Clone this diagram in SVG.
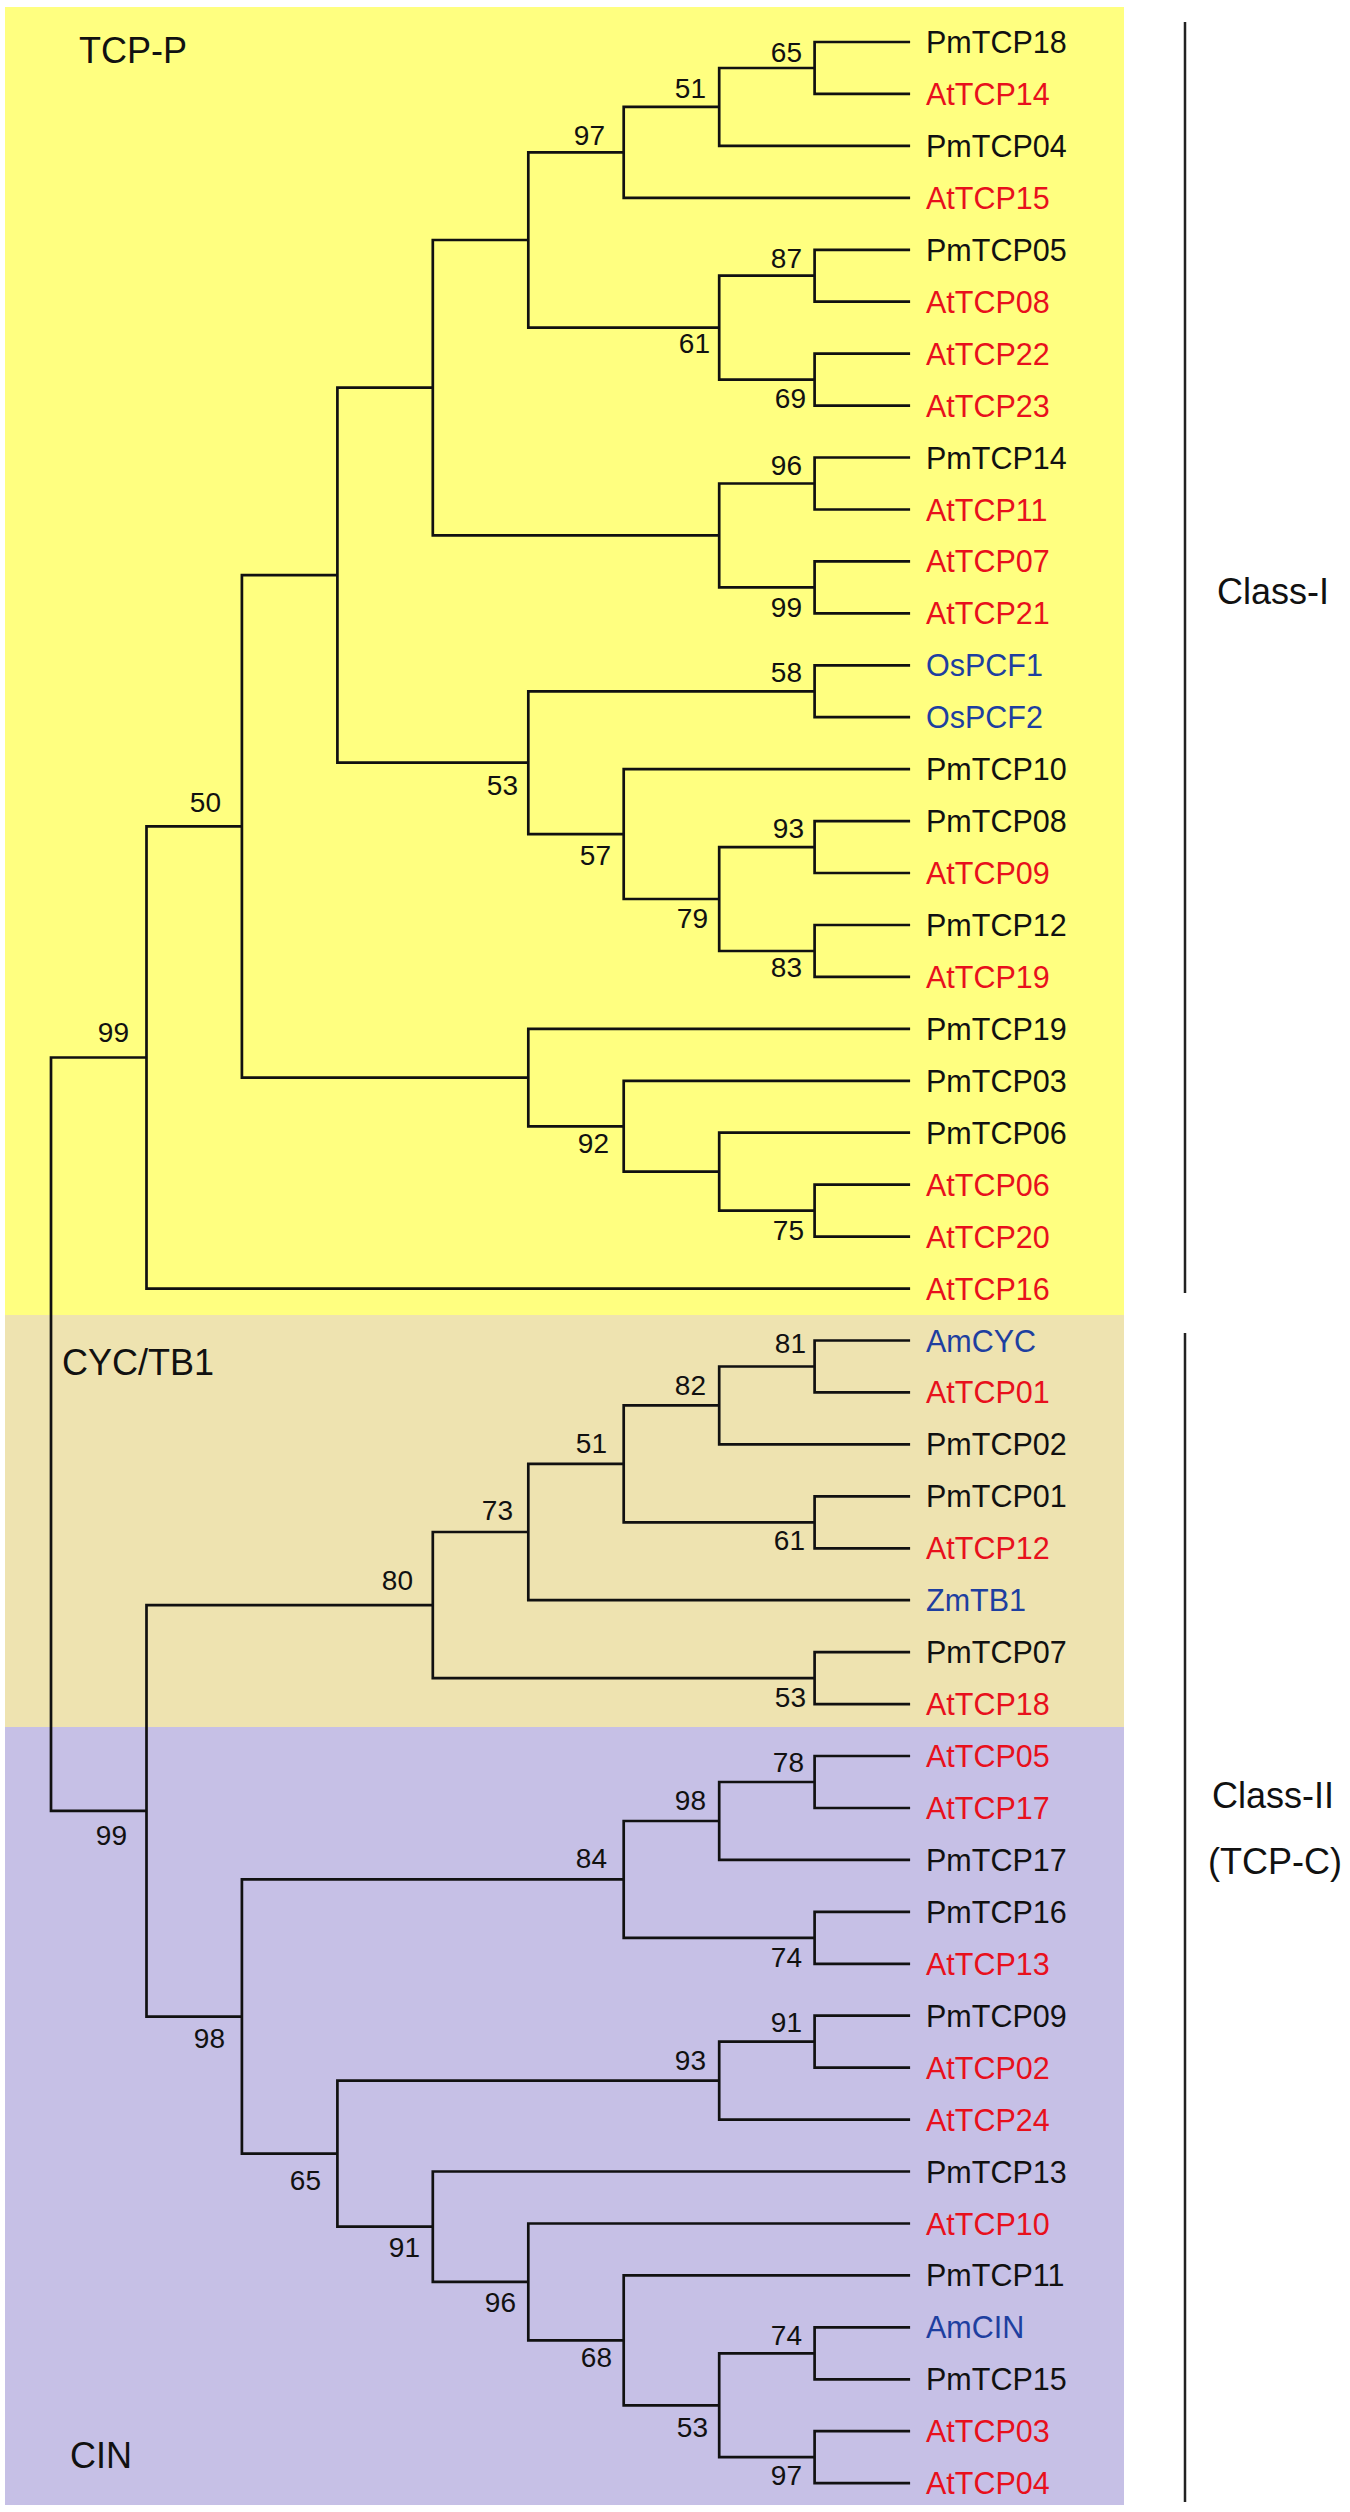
<svg xmlns="http://www.w3.org/2000/svg" width="1350" height="2512" viewBox="0 0 1350 2512">
<style>
.br{fill:none;stroke:#111;stroke-width:2.7;stroke-linejoin:miter}
.lf{font-family:"Liberation Sans",Arial,sans-serif;font-size:30.5px}
.bs{font-family:"Liberation Sans",Arial,sans-serif;font-size:28px;fill:#111;text-anchor:end}
.grp{font-family:"Liberation Sans",Arial,sans-serif;font-size:36px;fill:#111}
.cls{font-family:"Liberation Sans",Arial,sans-serif;font-size:36px;fill:#111;text-anchor:middle}
.pm{fill:#111}.at{fill:#E8101C}.ot{fill:#1E3FA0}
.bk{stroke:#222;stroke-width:2.5}
</style>
<rect width="1350" height="2512" fill="#ffffff"/>
<g id="panels">
<rect x="5" y="7" width="1119" height="1308" fill="#FFFF80"/>
<rect x="5" y="1315" width="1119" height="412" fill="#EEE3B0"/>
<rect x="5" y="1727" width="1119" height="778" fill="#C6C0E6"/>
</g>
<g id="group-labels">
<text class="grp" x="79" y="63">TCP-P</text>
<text class="grp" x="62" y="1375">CYC/TB1</text>
<text class="grp" x="70" y="2468">CIN</text>
</g>
<g id="connectors">
<path class="br" d="M 910.1 42 H 814.6 V 93.9 H 910.1"/>
<path class="br" d="M 814.6 68 H 719.2 V 145.9 H 910.1"/>
<path class="br" d="M 719.2 106.9 H 623.7 V 197.8 H 910.1"/>
<path class="br" d="M 910.1 249.8 H 814.6 V 301.7 H 910.1"/>
<path class="br" d="M 910.1 353.6 H 814.6 V 405.6 H 910.1"/>
<path class="br" d="M 814.6 275.7 H 719.2 V 379.6 H 814.6"/>
<path class="br" d="M 623.7 152.4 H 528.3 V 327.7 H 719.2"/>
<path class="br" d="M 910.1 457.5 H 814.6 V 509.5 H 910.1"/>
<path class="br" d="M 910.1 561.4 H 814.6 V 613.3 H 910.1"/>
<path class="br" d="M 814.6 483.5 H 719.2 V 587.4 H 814.6"/>
<path class="br" d="M 528.3 240 H 432.8 V 535.4 H 719.2"/>
<path class="br" d="M 910.1 665.3 H 814.6 V 717.2 H 910.1"/>
<path class="br" d="M 910.1 821.1 H 814.6 V 873 H 910.1"/>
<path class="br" d="M 910.1 925 H 814.6 V 976.9 H 910.1"/>
<path class="br" d="M 814.6 847.1 H 719.2 V 951 H 814.6"/>
<path class="br" d="M 910.1 769.2 H 623.7 V 899 H 719.2"/>
<path class="br" d="M 814.6 691.3 H 528.3 V 834.1 H 623.7"/>
<path class="br" d="M 432.8 387.7 H 337.4 V 762.7 H 528.3"/>
<path class="br" d="M 910.1 1184.7 H 814.6 V 1236.6 H 910.1"/>
<path class="br" d="M 910.1 1132.7 H 719.2 V 1210.7 H 814.6"/>
<path class="br" d="M 910.1 1080.8 H 623.7 V 1171.7 H 719.2"/>
<path class="br" d="M 910.1 1028.9 H 528.3 V 1126.3 H 623.7"/>
<path class="br" d="M 337.4 575.2 H 241.9 V 1077.6 H 528.3"/>
<path class="br" d="M 241.9 826.4 H 146.5 V 1288.6 H 910.1"/>
<path class="br" d="M 910.1 1340.5 H 814.6 V 1392.4 H 910.1"/>
<path class="br" d="M 814.6 1366.5 H 719.2 V 1444.4 H 910.1"/>
<path class="br" d="M 910.1 1496.3 H 814.6 V 1548.3 H 910.1"/>
<path class="br" d="M 719.2 1405.4 H 623.7 V 1522.3 H 814.6"/>
<path class="br" d="M 623.7 1463.9 H 528.3 V 1600.2 H 910.1"/>
<path class="br" d="M 910.1 1652.1 H 814.6 V 1704.1 H 910.1"/>
<path class="br" d="M 528.3 1532 H 432.8 V 1678.1 H 814.6"/>
<path class="br" d="M 910.1 1756 H 814.6 V 1808 H 910.1"/>
<path class="br" d="M 814.6 1782 H 719.2 V 1859.9 H 910.1"/>
<path class="br" d="M 910.1 1911.8 H 814.6 V 1963.8 H 910.1"/>
<path class="br" d="M 719.2 1821 H 623.7 V 1937.8 H 814.6"/>
<path class="br" d="M 910.1 2015.7 H 814.6 V 2067.7 H 910.1"/>
<path class="br" d="M 814.6 2041.7 H 719.2 V 2119.6 H 910.1"/>
<path class="br" d="M 910.1 2327.4 H 814.6 V 2379.3 H 910.1"/>
<path class="br" d="M 910.1 2431.2 H 814.6 V 2483.2 H 910.1"/>
<path class="br" d="M 814.6 2353.3 H 719.2 V 2457.2 H 814.6"/>
<path class="br" d="M 910.1 2275.4 H 623.7 V 2405.3 H 719.2"/>
<path class="br" d="M 910.1 2223.5 H 528.3 V 2340.3 H 623.7"/>
<path class="br" d="M 910.1 2171.5 H 432.8 V 2281.9 H 528.3"/>
<path class="br" d="M 719.2 2080.7 H 337.4 V 2226.7 H 432.8"/>
<path class="br" d="M 623.7 1879.4 H 241.9 V 2153.7 H 337.4"/>
<path class="br" d="M 432.8 1605.1 H 146.5 V 2016.6 H 241.9"/>
<path class="br" d="M 146.5 1057.5 H 51 V 1810.8 H 146.5"/>
</g>
<g id="bootstrap">
<g id="n65"><text class="bs" x="802" y="62">65</text></g>
<g id="n51"><text class="bs" x="706" y="98">51</text></g>
<g id="n97"><text class="bs" x="605" y="145">97</text></g>
<g id="n87"><text class="bs" x="802" y="268">87</text></g>
<g id="n61"><text class="bs" x="710" y="353">61</text></g>
<g id="n69"><text class="bs" x="806" y="408">69</text></g>
<g id="n96"><text class="bs" x="802" y="475">96</text></g>
<g id="n99a"><text class="bs" x="802" y="617">99</text></g>
<g id="n58"><text class="bs" x="802" y="682">58</text></g>
<g id="n53"><text class="bs" x="518" y="795">53</text></g>
<g id="n50"><text class="bs" x="221" y="812">50</text></g>
<g id="n93"><text class="bs" x="804" y="838">93</text></g>
<g id="n57"><text class="bs" x="611" y="865">57</text></g>
<g id="n79"><text class="bs" x="708" y="928">79</text></g>
<g id="n83"><text class="bs" x="802" y="977">83</text></g>
<g id="n99I"><text class="bs" x="129" y="1042">99</text></g>
<g id="n92"><text class="bs" x="609" y="1153">92</text></g>
<g id="n75"><text class="bs" x="804" y="1240">75</text></g>
<g id="n81"><text class="bs" x="806" y="1353">81</text></g>
<g id="n82"><text class="bs" x="706" y="1395">82</text></g>
<g id="n51b"><text class="bs" x="607" y="1453">51</text></g>
<g id="n73"><text class="bs" x="513" y="1520">73</text></g>
<g id="n61b"><text class="bs" x="805" y="1550">61</text></g>
<g id="n80"><text class="bs" x="413" y="1590">80</text></g>
<g id="n53b"><text class="bs" x="806" y="1707">53</text></g>
<g id="n78"><text class="bs" x="804" y="1772">78</text></g>
<g id="n98b"><text class="bs" x="706" y="1810">98</text></g>
<g id="n99II"><text class="bs" x="127" y="1845">99</text></g>
<g id="n84"><text class="bs" x="607" y="1868">84</text></g>
<g id="n74"><text class="bs" x="802" y="1967">74</text></g>
<g id="n91b"><text class="bs" x="802" y="2032">91</text></g>
<g id="n98"><text class="bs" x="225" y="2048">98</text></g>
<g id="n93b"><text class="bs" x="706" y="2070">93</text></g>
<g id="n65b"><text class="bs" x="321" y="2190">65</text></g>
<g id="n91"><text class="bs" x="420" y="2257">91</text></g>
<g id="n96b"><text class="bs" x="516" y="2312">96</text></g>
<g id="n74b"><text class="bs" x="802" y="2345">74</text></g>
<g id="n68"><text class="bs" x="612" y="2367">68</text></g>
<g id="n53c"><text class="bs" x="708" y="2437">53</text></g>
<g id="n97b"><text class="bs" x="802" y="2485">97</text></g>
</g>
<g id="leaves">
<g id="PmTCP18"><text class="lf pm" x="926" y="53">PmTCP18</text></g>
<g id="AtTCP14"><text class="lf at" x="926" y="104.9">AtTCP14</text></g>
<g id="PmTCP04"><text class="lf pm" x="926" y="156.9">PmTCP04</text></g>
<g id="AtTCP15"><text class="lf at" x="926" y="208.8">AtTCP15</text></g>
<g id="PmTCP05"><text class="lf pm" x="926" y="260.8">PmTCP05</text></g>
<g id="AtTCP08"><text class="lf at" x="926" y="312.7">AtTCP08</text></g>
<g id="AtTCP22"><text class="lf at" x="926" y="364.6">AtTCP22</text></g>
<g id="AtTCP23"><text class="lf at" x="926" y="416.6">AtTCP23</text></g>
<g id="PmTCP14"><text class="lf pm" x="926" y="468.5">PmTCP14</text></g>
<g id="AtTCP11"><text class="lf at" x="926" y="520.5">AtTCP11</text></g>
<g id="AtTCP07"><text class="lf at" x="926" y="572.4">AtTCP07</text></g>
<g id="AtTCP21"><text class="lf at" x="926" y="624.3">AtTCP21</text></g>
<g id="OsPCF1"><text class="lf ot" x="926" y="676.3">OsPCF1</text></g>
<g id="OsPCF2"><text class="lf ot" x="926" y="728.2">OsPCF2</text></g>
<g id="PmTCP10"><text class="lf pm" x="926" y="780.2">PmTCP10</text></g>
<g id="PmTCP08"><text class="lf pm" x="926" y="832.1">PmTCP08</text></g>
<g id="AtTCP09"><text class="lf at" x="926" y="884">AtTCP09</text></g>
<g id="PmTCP12"><text class="lf pm" x="926" y="936">PmTCP12</text></g>
<g id="AtTCP19"><text class="lf at" x="926" y="987.9">AtTCP19</text></g>
<g id="PmTCP19"><text class="lf pm" x="926" y="1039.9">PmTCP19</text></g>
<g id="PmTCP03"><text class="lf pm" x="926" y="1091.8">PmTCP03</text></g>
<g id="PmTCP06"><text class="lf pm" x="926" y="1143.7">PmTCP06</text></g>
<g id="AtTCP06"><text class="lf at" x="926" y="1195.7">AtTCP06</text></g>
<g id="AtTCP20"><text class="lf at" x="926" y="1247.6">AtTCP20</text></g>
<g id="AtTCP16"><text class="lf at" x="926" y="1299.6">AtTCP16</text></g>
<g id="AmCYC"><text class="lf ot" x="926" y="1351.5">AmCYC</text></g>
<g id="AtTCP01"><text class="lf at" x="926" y="1403.4">AtTCP01</text></g>
<g id="PmTCP02"><text class="lf pm" x="926" y="1455.4">PmTCP02</text></g>
<g id="PmTCP01"><text class="lf pm" x="926" y="1507.3">PmTCP01</text></g>
<g id="AtTCP12"><text class="lf at" x="926" y="1559.3">AtTCP12</text></g>
<g id="ZmTB1"><text class="lf ot" x="926" y="1611.2">ZmTB1</text></g>
<g id="PmTCP07"><text class="lf pm" x="926" y="1663.1">PmTCP07</text></g>
<g id="AtTCP18"><text class="lf at" x="926" y="1715.1">AtTCP18</text></g>
<g id="AtTCP05"><text class="lf at" x="926" y="1767">AtTCP05</text></g>
<g id="AtTCP17"><text class="lf at" x="926" y="1819">AtTCP17</text></g>
<g id="PmTCP17"><text class="lf pm" x="926" y="1870.9">PmTCP17</text></g>
<g id="PmTCP16"><text class="lf pm" x="926" y="1922.8">PmTCP16</text></g>
<g id="AtTCP13"><text class="lf at" x="926" y="1974.8">AtTCP13</text></g>
<g id="PmTCP09"><text class="lf pm" x="926" y="2026.7">PmTCP09</text></g>
<g id="AtTCP02"><text class="lf at" x="926" y="2078.7">AtTCP02</text></g>
<g id="AtTCP24"><text class="lf at" x="926" y="2130.6">AtTCP24</text></g>
<g id="PmTCP13"><text class="lf pm" x="926" y="2182.5">PmTCP13</text></g>
<g id="AtTCP10"><text class="lf at" x="926" y="2234.5">AtTCP10</text></g>
<g id="PmTCP11"><text class="lf pm" x="926" y="2286.4">PmTCP11</text></g>
<g id="AmCIN"><text class="lf ot" x="926" y="2338.4">AmCIN</text></g>
<g id="PmTCP15"><text class="lf pm" x="926" y="2390.3">PmTCP15</text></g>
<g id="AtTCP03"><text class="lf at" x="926" y="2442.2">AtTCP03</text></g>
<g id="AtTCP04"><text class="lf at" x="926" y="2494.2">AtTCP04</text></g>
</g>
<g id="class-brackets">
<line class="bk" x1="1185" y1="22" x2="1185" y2="1293"/>
<line class="bk" x1="1185" y1="1333" x2="1185" y2="2502"/>
<text class="cls" x="1273" y="604">Class-I</text>
<text class="cls" x="1273" y="1808">Class-II</text>
<text class="cls" x="1275" y="1874">(TCP-C)</text>
</g>
</svg>
